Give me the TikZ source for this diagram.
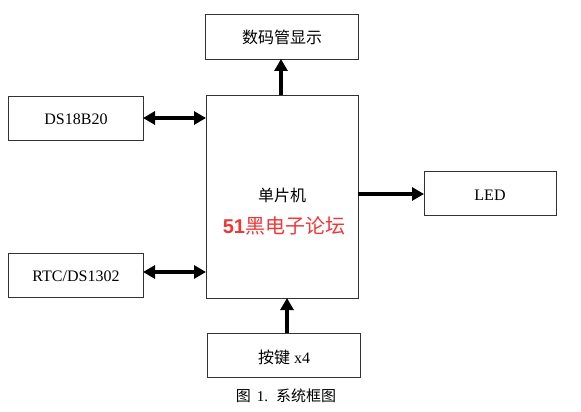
\documentclass[tikz,border=0pt]{standalone}
\usepackage{fontspec}
\setmainfont{Liberation Serif}
\newfontfamily\cjk{Noto Sans CJK SC}
\newfontfamily\numfont{Liberation Sans}
\usetikzlibrary{arrows.meta}
\definecolor{redtxt}{RGB}{240,55,55}
\begin{document}
\begin{tikzpicture}[x=1pt,y=-1pt,
  blk/.style={draw=black!80,line width=0.8pt,inner sep=0pt},
  lbl/.style={font=\fontsize{16}{18}\selectfont},
  thick arrow/.style={line width=3.8pt,-{Triangle[length=12pt,width=13pt]}},
  dbl arrow/.style={line width=3.8pt,{Triangle[length=12pt,width=13pt]}-{Triangle[length=12pt,width=13pt]}}]
\useasboundingbox (0,0) rectangle (581,412);
% boxes
\draw[blk] (205,14) rectangle (358,59);
\node[lbl] (disp) at (282,37) {\cjk 数码管显示};
\coordinate (dispB) at (281,59);
\draw[blk] (206,95) rectangle (358,298);
\coordinate (mcuT) at (281,95);
\coordinate (mcuB) at (287,298);
\coordinate (mcuL1) at (206,118);
\coordinate (mcuL2) at (206,272);
\coordinate (mcuR) at (358,194);
\node[lbl] (mcu) at (282,195) {\cjk 单片机};
\node[font=\fontsize{20}{22}\selectfont,text=redtxt] (bbs) at (284,226) {\numfont\textbf{51}\cjk 黑电子论坛};
\draw[blk] (8,96) rectangle (143,140);
\node[lbl] (ds) at (76,119) {DS18B20};
\coordinate (dsR) at (143,118);
\draw[blk] (8,253) rectangle (143,297);
\node[lbl] (rtc) at (76,276) {RTC/DS1302};
\coordinate (rtcR) at (143,272);
\draw[blk] (424,171) rectangle (556,215);
\node[lbl] (led) at (490,195) {LED};
\coordinate (ledL) at (424,194);
\draw[blk] (207,333) rectangle (360,377);
\node[lbl] (key) at (284,357) {\cjk 按键\hspace{4pt}\rmfamily x4};
\coordinate (keyT) at (287,333);
% arrows
\draw[thick arrow] (mcuT) -- (dispB);
\draw[thick arrow] (keyT) -- (mcuB);
\draw[thick arrow] (mcuR) -- (ledL);
\draw[dbl arrow] (dsR) -- (mcuL1);
\draw[dbl arrow] (rtcR) -- (mcuL2);
% caption
\node[font=\fontsize{15}{17}\selectfont] (cap) at (286,396) {\cjk 图\hspace{6pt}\rmfamily 1.\hspace{8pt}\cjk 系统框图};
\end{tikzpicture}
\end{document}
